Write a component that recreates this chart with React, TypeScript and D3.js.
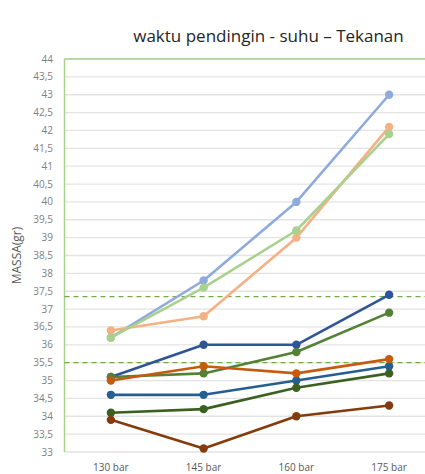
import React from "react";
import * as d3 from "d3";

const categories = ["130 bar", "145 bar", "160 bar", "175 bar"];
const seriesNames = ["s1", "s2", "s3", "s4", "s5", "s6", "s7", "s8", "s9"];
const seriesValues = [
  [36.2, 37.8, 40.0, 43.0],
  [36.2, 37.6, 39.2, 41.9],
  [36.4, 36.8, 39.0, 42.1],
  [35.1, 36.0, 36.0, 37.4],
  [35.1, 35.2, 35.8, 36.9],
  [35.0, 35.4, 35.2, 35.6],
  [34.6, 34.6, 35.0, 35.4],
  [34.1, 34.2, 34.8, 35.2],
  [33.9, 33.1, 34.0, 34.3],
];
const seriesColors = [
  "#8faadc", "#a9d18e", "#f4b183",
  "#2f5597", "#548235", "#c55a11",
  "#255e91", "#3b6120", "#843c0c",
];
const refLines = [37.35, 35.5];
const yTicks = d3.range(33, 44.01, 0.5);

const W = 425, H = 474;
const left = 64.5, right = 435.5, top = 59, bottom = 452;

export default function App() {
  const x = d3.scaleBand().domain(categories).range([left, right]);
  const y = d3.scaleLinear().domain([33, 44]).range([bottom, top]);
  const cx = (c: string) => (x(c) as number) + x.bandwidth() / 2;
  const line = d3.line<number>().x((_, i) => cx(categories[i])).y((d) => y(d));
  const fmt = (v: number) => String(v).replace(".", ",");
  const font = "'Open Sans', 'Liberation Sans', sans-serif";
  const order = [0, 2, 1, 3, 4, 6, 7, 5, 8];
  return (
    <svg width={W} height={H} style={{ position: "absolute", left: 0, top: 0, background: "#fff" }}>
      <text x={268.5} y={42} textAnchor="middle" fontFamily={font} fontSize={17} fill="#262626">
        waktu pendingin - suhu – Tekanan
      </text>
      {yTicks.map((t) => (
        <g key={t}>
          <line x1={left} x2={W} y1={y(t)} y2={y(t)} stroke="#e3e3e3" strokeWidth={1.3} />
          <text x={53} y={y(t) + 3.5} textAnchor="end" fontFamily={font} fontSize={10} fill="#7f7f7f">
            {fmt(t)}
          </text>
        </g>
      ))}
      <line x1={left} x2={W} y1={top} y2={top} stroke="#a9d18e" strokeWidth={1.5} />
      <line x1={left} x2={left} y1={top} y2={bottom} stroke="#a9d18e" strokeWidth={1.5} />
      {refLines.map((v) => (
        <line key={v} x1={left} x2={W} y1={y(v)} y2={y(v)} stroke="#70ad47" strokeWidth={1.2} strokeDasharray="5,4" />
      ))}
      <text
        transform={`translate(21,${(top + bottom) / 2}) rotate(-90)`}
        textAnchor="middle"
        fontFamily={font}
        fontSize={12}
        fill="#595959"
      >
        MASSA(gr)
      </text>
      {categories.map((c) => (
        <text key={c} x={cx(c)} y={471} textAnchor="middle" fontFamily={font} fontSize={10} fill="#595959">
          {c}
        </text>
      ))}
      {order.map((si) => (
        <g key={seriesNames[si]}>
          <path d={line(seriesValues[si]) as string} fill="none" stroke={seriesColors[si]} strokeWidth={2.6} strokeLinejoin="round" />
          {seriesValues[si].map((v, i) => (
            <circle key={i} cx={cx(categories[i])} cy={y(v)} r={4.2} fill={seriesColors[si]} />
          ))}
        </g>
      ))}
    </svg>
  );
}
